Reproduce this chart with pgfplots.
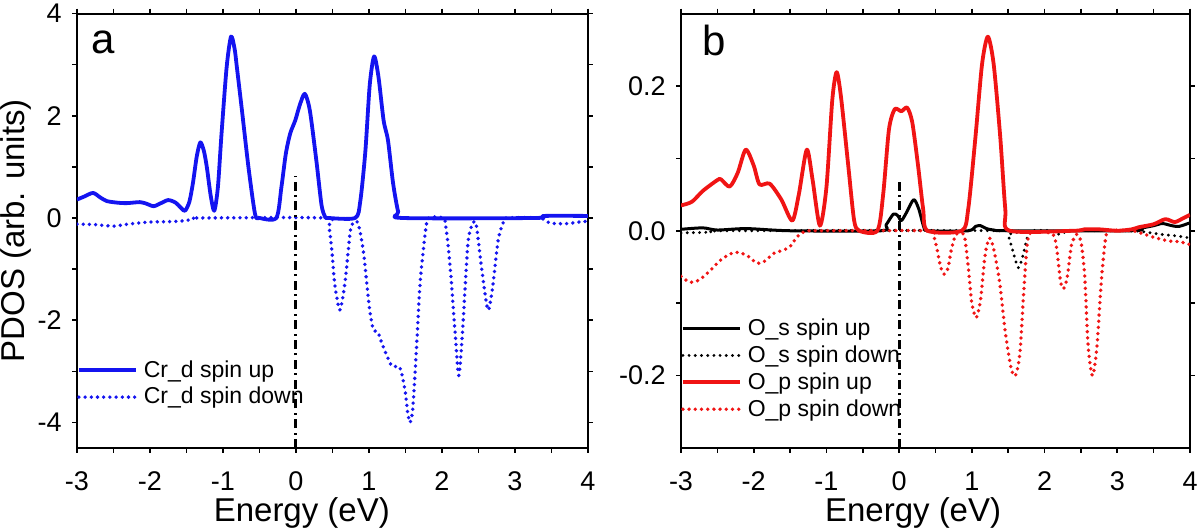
\documentclass[border=0pt]{standalone}
\usepackage{fontspec}
\setmainfont{Liberation Sans}
\usepackage{pgfplots}
\pgfplotsset{compat=1.18}

\definecolor{cblue}{RGB}{20,20,240}
\definecolor{cred}{RGB}{240,20,20}

\pgfplotsset{
  pdos/.style={
    scale only axis,
    height=217.25pt,
    xmin=-3, xmax=4,
    xtick={-3,...,4},
    minor x tick num=1,
    tick align=outside,
    major tick length=2.4pt,
    minor tick length=2.4pt,
    every tick/.style={black, line width=0.8pt},
    every minor tick/.style={black, line width=0.8pt},
    axis line style={black, line width=1pt},
    /pgf/number format/assume math mode=true,
    tick label style={font=\fontsize{13.5}{15}\selectfont},
    xticklabel style={yshift=-5.8pt},
    yticklabel style={xshift=-1.8pt},
    xlabel={Energy (eV)},
    label style={font=\fontsize{16.5}{18}\selectfont},
    legend cell align=left,
    legend image code/.code={\draw[#1] (0pt,0pt) -- (28.5pt,0pt);},
    legend style={draw=none, fill=none, inner sep=0pt, outer sep=0pt,
      row sep=3.6pt, font=\fontsize{11.5}{13}\selectfont,
      nodes={inner sep=0pt},
      /tikz/every odd column/.append style={column sep=3pt}},
  },
  up/.style={smooth, tension=0.45, line width=1.9pt, line join=round},
  dn/.style={smooth, tension=0.45, line width=1.9pt, line cap=round,
    dash pattern=on 0pt off 3.1pt},
  fermi/.style={black, line width=1.5pt, dash pattern=on 4.5pt off 2.2pt on 1pt off 2.2pt},
}

\begin{document}
\begin{tikzpicture}
\path[use as bounding box] (0,0) rectangle (600pt,265.5pt);

% (a) Cr_d
\begin{axis}[pdos,
  at={(38.5pt,41.5pt)}, anchor=south west,
  width=255.5pt,
  ymin=-4.5, ymax=4,
  ytick={-4,-2,0,2,4},
  minor ytick={-3,-1,1,3},
  ylabel={PDOS (arb. units)},
  xlabel style={at={(axis description cs:0.44,-0.1427)}, anchor=base, yshift=-5.6pt},
  ylabel style={at={(axis description cs:-0.119,0.5)}, anchor=center},
  legend style={at={(0,0.148)}, anchor=west},
]
\addplot[up, cblue] coordinates {
(-3,0.36) (-2.9,0.42) (-2.78,0.49) (-2.68,0.40) (-2.59,0.33) (-2.45,0.30)
(-2.32,0.29) (-2.14,0.31) (-2.05,0.28) (-1.95,0.23) (-1.85,0.29) (-1.75,0.35)
(-1.65,0.30) (-1.57,0.19) (-1.52,0.14) (-1.46,0.32) (-1.41,0.70) (-1.36,1.20)
(-1.31,1.48) (-1.26,1.30) (-1.22,0.98) (-1.17,0.45) (-1.12,0.14) (-1.07,0.60)
(-1.02,1.65) (-0.95,2.95) (-0.89,3.55) (-0.84,3.30) (-0.81,2.95) (-0.74,2.10)
(-0.65,0.98) (-0.56,0.07) (-0.50,0.0) (-0.27,0.0) (-0.20,0.60) (-0.14,1.25)
(-0.08,1.65) (-0.01,1.91) (0.05,2.20) (0.12,2.43) (0.19,2.10) (0.28,1.11)
(0.35,0.25) (0.40,0.02) (0.44,0.0) (0.81,0.0) (0.88,0.32) (0.95,1.30)
(1.01,2.60) (1.07,3.16) (1.13,2.76) (1.20,1.91) (1.26,1.52) (1.33,0.68)
(1.40,0.12) (1.46,0.0) (3.28,0.0) (3.40,0.04) (4,0.04)
};
\addlegendentry{Cr\_d spin up}
\addplot[dn, cblue] coordinates {
(-3,-0.12) (-2.75,-0.13) (-2.5,-0.16) (-2.3,-0.12) (-2.0,-0.08) (-1.7,-0.07)
(-1.5,-0.05) (-1.4,-0.01) (-1.3,0.0) (0.40,0.0) (0.45,-0.15) (0.49,-0.62)
(0.53,-1.28) (0.60,-1.80) (0.67,-1.28) (0.74,-0.30) (0.78,-0.10) (0.85,-0.10)
(0.92,-0.62) (0.97,-1.28) (1.01,-1.80) (1.06,-2.19) (1.12,-2.23) (1.19,-2.50)
(1.31,-2.89) (1.42,-2.92) (1.49,-3.34) (1.53,-3.80) (1.56,-4.00) (1.60,-3.73)
(1.65,-2.56) (1.70,-1.28) (1.77,-0.30) (1.82,0.0) (2.02,0.0) (2.05,-0.15)
(2.09,-0.62) (2.13,-1.28) (2.18,-2.25) (2.23,-3.08) (2.28,-2.25) (2.32,-1.28)
(2.36,-0.43) (2.42,-0.10) (2.47,-0.14) (2.54,-0.95) (2.63,-1.80) (2.70,-1.28)
(2.77,-0.43) (2.85,-0.05) (2.9,0.0) (3.34,0.0) (3.48,-0.10) (3.7,-0.11)
(3.93,-0.07) (4,-0.07)
};
\addlegendentry{Cr\_d spin down}
\addplot[fermi, forget plot] coordinates {(0,-4.5) (0,0.82)};
\node[anchor=base west, inner sep=0pt, font=\fontsize{21}{23}\selectfont]
  at (axis cs:-2.8,3.22) {a};
\end{axis}

% (b) O_s, O_p
\begin{axis}[pdos,
  at={(340.5pt,41.5pt)}, anchor=south west,
  width=254.5pt,
  ymin=-0.3, ymax=0.3,
  ytick={-0.2,0,0.2},
  minor ytick={-0.1,0.1},
  yticklabel style={/pgf/number format/.cd, fixed, fixed zerofill, precision=1},
  xlabel style={at={(axis description cs:0.456,-0.1427)}, anchor=base, yshift=-5.6pt},
  legend style={at={(0,0.182)}, anchor=west},
]
\addplot[up, black, line width=1.5pt] coordinates {
(-3,0.002) (-2.7,0.004) (-2.5,0.001) (-2.1,0.003) (-1.5,0.0) (-0.25,0.0)
(-0.18,0.008) (-0.08,0.023) (-0.02,0.021) (0.03,0.014) (0.10,0.025)
(0.20,0.043) (0.27,0.030) (0.34,0.005) (0.40,0.0) (0.95,0.0) (1.05,0.006)
(1.12,0.007) (1.20,0.003) (1.30,0.001) (1.50,0.0) (3.20,0.0) (3.35,0.004)
(3.50,0.007) (3.62,0.010) (3.75,0.007) (3.85,0.006) (4,0.011)
};
\addlegendentry{O\_s spin up}
\addplot[dn, black, line width=1.6pt] coordinates {
(-3,-0.003) (-2.6,-0.002) (-2.3,0.0) (1.45,0.0) (1.50,-0.006) (1.57,-0.030)
(1.64,-0.051) (1.70,-0.035) (1.77,-0.006) (1.82,0.0) (2.10,0.0) (2.20,-0.005)
(2.28,-0.002) (2.35,0.0) (3.20,0.0) (3.40,-0.002) (3.60,-0.005) (3.80,-0.007)
(4,-0.010)
};
\addlegendentry{O\_s spin down}
\addplot[up, cred] coordinates {
(-3,0.035) (-2.85,0.040) (-2.7,0.055) (-2.5,0.070) (-2.45,0.071) (-2.33,0.061)
(-2.22,0.080) (-2.11,0.112) (-2.0,0.090) (-1.92,0.064) (-1.78,0.065)
(-1.62,0.043) (-1.47,0.014) (-1.38,0.050) (-1.27,0.112) (-1.19,0.070)
(-1.09,0.007) (-1.0,0.060) (-0.92,0.180) (-0.86,0.219) (-0.80,0.185)
(-0.70,0.090) (-0.62,0.015) (-0.55,0.0) (-0.30,0.0) (-0.22,0.050)
(-0.14,0.140) (-0.06,0.168) (0.03,0.165) (0.11,0.170) (0.18,0.150)
(0.26,0.090) (0.33,0.030) (0.39,0.0) (0.86,0.0) (0.95,0.030) (1.05,0.130)
(1.14,0.230) (1.22,0.268) (1.30,0.230) (1.39,0.130) (1.46,0.030) (1.52,0.0)
(2.40,0.0) (2.55,0.002) (2.75,0.002) (3.0,0.0) (3.2,0.002) (3.3,0.005)
(3.5,0.009) (3.66,0.016) (3.79,0.012) (3.9,0.017) (4,0.022)
};
\addlegendentry{O\_p spin up}
\addplot[dn, cred] coordinates {
(-3,-0.063) (-2.88,-0.071) (-2.75,-0.068) (-2.6,-0.055) (-2.45,-0.040)
(-2.3,-0.031) (-2.2,-0.030) (-2.08,-0.035) (-1.95,-0.045) (-1.85,-0.042)
(-1.72,-0.031) (-1.6,-0.027) (-1.5,-0.022) (-1.4,-0.008) (-1.3,-0.001)
(-1.1,0.0) (0.42,0.0) (0.47,-0.005) (0.52,-0.025) (0.57,-0.050) (0.62,-0.060)
(0.67,-0.052) (0.72,-0.025) (0.78,-0.005) (0.85,-0.004) (0.90,-0.008)
(0.95,-0.050) (1.00,-0.100) (1.06,-0.120) (1.12,-0.095) (1.18,-0.035)
(1.24,-0.010) (1.30,-0.025) (1.38,-0.070) (1.46,-0.140) (1.54,-0.190)
(1.60,-0.200) (1.66,-0.170) (1.71,-0.090) (1.76,-0.020) (1.82,-0.002)
(2.10,-0.004) (2.16,-0.020) (2.22,-0.070) (2.26,-0.080) (2.31,-0.065)
(2.37,-0.020) (2.44,-0.005) (2.50,-0.015) (2.55,-0.060) (2.60,-0.160)
(2.66,-0.200) (2.72,-0.160) (2.78,-0.070) (2.84,-0.010) (2.90,0.0)
(3.20,0.0) (3.35,-0.004) (3.50,-0.009) (3.70,-0.014) (3.85,-0.015) (4,-0.019)
};
\addlegendentry{O\_p spin down}
\addplot[fermi, forget plot] coordinates {(0,-0.3) (0,0.068)};
\node[anchor=base west, inner sep=0pt, font=\fontsize{21}{23}\selectfont]
  at (axis cs:-2.71,0.242) {b};
\end{axis}
\end{tikzpicture}
\end{document}
